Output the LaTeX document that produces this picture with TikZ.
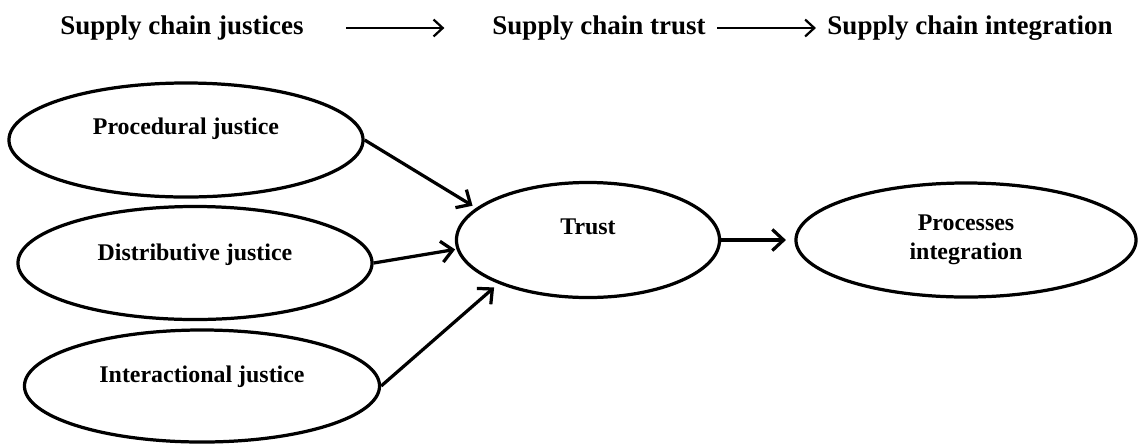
\documentclass[tikz,border=0pt]{standalone}
\usepackage{fontspec}
\setmainfont{Liberation Serif}
\usetikzlibrary{shapes.geometric,arrows.meta}
\begin{document}
\begin{tikzpicture}[x=0.025cm,y=-0.025cm,
  ovaltext/.style={inner sep=0pt,align=center,font=\fontsize{17}{20.5}\selectfont\bfseries},
  oval/.style={draw,ellipse,line width=2.3pt,ovaltext},
  heading/.style={inner sep=0pt,font=\fontsize{19.2}{23}\selectfont\bfseries},
  flow/.style={-{Straight Barb[length=8pt,width=15pt]},line width=2.3pt},
  headflow/.style={-{Straight Barb[length=6.5pt,width=12pt]},line width=1.6pt}]
  \useasboundingbox (0,0) rectangle (1138,443);
  \node[heading] (hjust) at (182,28) {Supply chain justices};
  \node[heading] (htrust) at (599,28) {Supply chain trust};
  \node[heading] (hinteg) at (970,28) {Supply chain integration};
  \draw[headflow,shorten <=30pt,shorten >=34pt] (hjust.east) -- (htrust.west);
  \draw[headflow,shorten <=8pt,shorten >=8pt] (htrust.east) -- (hinteg.west);
  \node[oval,minimum width=8.85cm,minimum height=2.85cm,
    label={[ovaltext,yshift=7.8pt]center:Procedural justice}] (proc) at (186,140) {};
  \node[oval,minimum width=8.85cm,minimum height=2.825cm,
    label={[ovaltext,yshift=5.7pt]center:Distributive justice}] (dist) at (195,263) {};
  \node[oval,minimum width=8.875cm,minimum height=2.8cm,
    label={[ovaltext,yshift=6.4pt]center:Interactional justice}] (inter) at (202,386) {};
  \node[oval,minimum width=6.575cm,minimum height=2.875cm,
    label={[ovaltext,yshift=9.2pt]center:Trust}] (trust) at (588,240) {};
  \node[oval,minimum width=8.5cm,minimum height=2.85cm] (integ) at (966,240) {Processes\\integration};
  \draw[flow,shorten >=3pt] (proc.east) -- (trust.164);
  \draw[flow,shorten >=1pt] (dist.east) -- (trust.184);
  \draw[flow,shorten >=4pt] (inter.east) -- (trust.206);
  \draw[flow,shorten >=6pt] (trust.east) -- (integ.west);
\end{tikzpicture}
\end{document}
